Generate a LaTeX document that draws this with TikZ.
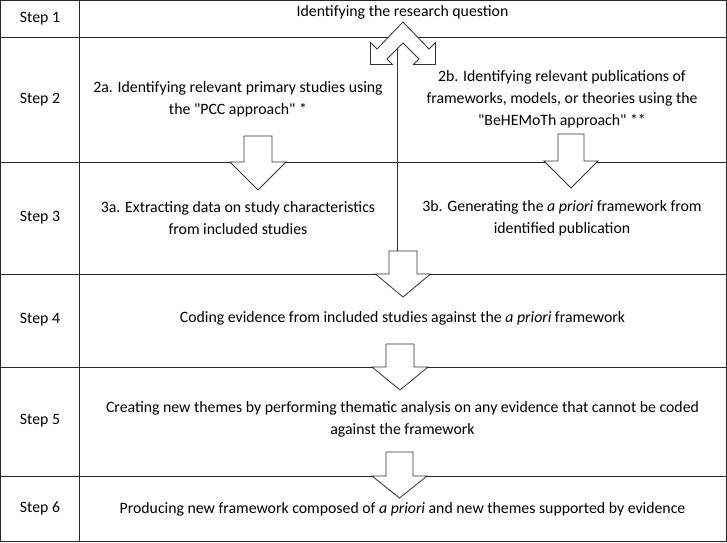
\documentclass[tikz,border=0pt]{standalone}
\usepackage{fontspec}
\setmainfont{Carlito}[Ligatures=TeXOff]
\begin{document}
\begin{tikzpicture}[x=1pt,y=-1pt,
  gridline/.style={draw=black!85, line width=0.8pt},
  txt/.style={font=\fontsize{15.8}{22}\selectfont, align=center, inner sep=0pt, text=black},
  blockarrow/.style={draw=black!80, line width=0.8pt, fill=white, line join=miter},
]
\useasboundingbox (0,0) rectangle (727,542);
% table
\draw[gridline] (0.8,0.8) rectangle (726,541);
\draw[gridline] (79.5,0.8) -- (79.5,541);
\foreach \y in {37.5,162,274,367,476}{\draw[gridline] (0.8,\y) -- (726,\y);}
% step labels
\node[txt] (s1) at (40,19) {Step 1};
\node[txt] (s2) at (40,100) {Step 2};
\node[txt] (s3) at (40,218) {Step 3};
\node[txt] (s4) at (40,320) {Step 4};
\node[txt] (s5) at (40,421) {Step 5};
\node[txt] (s6) at (40,508) {Step 6};
% texts
\node[txt] (t1) at (402.5,12) {Identifying the research question};
\node[txt] (t2a) at (238,99.5) {2a. Identifying relevant primary studies using\\the "PCC approach" *};
\node[txt] (t2b) at (562,99) {2b. Identifying relevant publications of\\frameworks, models, or theories using the\\"BeHEMoTh approach" **};
\node[txt] (t3a) at (238,218) {3a. Extracting data on study characteristics\\from included studies};
\node[txt] (t3b) at (562,218) {3b. Generating the \textit{a priori} framework from\\identified publication};
\node[txt] (t4) at (402.5,318) {Coding evidence from included studies against the \textit{a priori} framework};
\node[txt] (t5) at (402.5,419) {Creating new themes by performing thematic analysis on any evidence that cannot be coded\\against the framework};
\node[txt] (t6) at (402.5,509) {Producing new framework composed of \textit{a priori} and new themes supported by evidence};
% vertical connector (column border of rows 2-3)
\coordinate (lineTop) at (397.5,47);
\coordinate (lineBot) at (397.5,251);
\draw[draw=black!80, line width=0.8pt] (lineTop) -- (lineBot);
% down block arrows: cx, shaft top, head y, tip y, shaft hw, head hw
\foreach \cx/\st/\hy/\tp/\sw/\hw in {258/136/162/190/14/28, 571/134/161/188/13/27, 403/251/274/297/14/27.5, 400/344/367/390/14/28, 399.5/452/476/498/13.5/27.5}{
  \draw[blockarrow] (\cx-\sw,\st) -- (\cx+\sw,\st) -- (\cx+\sw,\hy) -- (\cx+\hw,\hy) -- (\cx,\tp) -- (\cx-\hw,\hy) -- (\cx-\sw,\hy) -- cycle;
}
% split chevron
\draw[blockarrow] (403,22) -- (429,49) -- (435.5,42.5) -- (435.5,64.5) -- (413.5,64.5) -- (419,59) -- (403,43)
  -- (387,59) -- (392.5,64.5) -- (370.5,64.5) -- (370.5,42.5) -- (377,49) -- cycle;
\end{tikzpicture}
\end{document}
